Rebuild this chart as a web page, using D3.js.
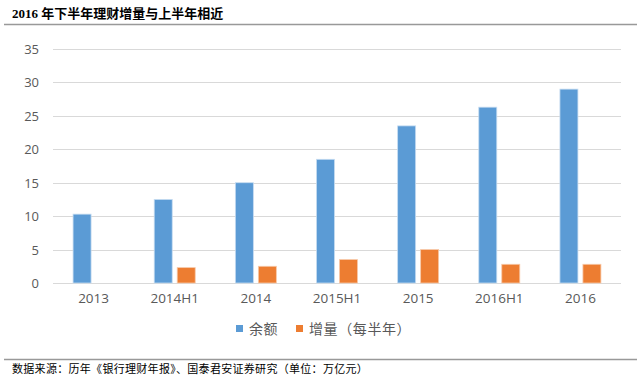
<!DOCTYPE html>
<html><head><meta charset="utf-8">
<script src="https://cdn.jsdelivr.net/npm/d3@7/dist/d3.min.js"></script>
<style>body{margin:0;background:#fff;}svg{display:block;}</style>
</head><body>
<svg id="c" width="640" height="375"></svg>
<script>
const categories = ["2013","2014H1","2014","2015H1","2015","2016H1","2016"];
const balance = [10.3,12.5,15.0,18.5,23.5,26.3,29.0];
const increment = [null,2.3,2.5,3.5,5.0,2.8,2.8];
const yTicks = [0,5,10,15,20,25,30,35];
const seriesNames = ["余额","增量（每半年）"];
const colors = ["#5B9BD5","#ED7D31"];
const title = "2016 年下半年理财增量与上半年相近";
const source = "数据来源：历年《银行理财年报》、国泰君安证券研究（单位：万亿元）";

const svg = d3.select("#c");
const L=53,R=621,T=49,B=283;
const x = d3.scaleBand().domain(categories).range([L,R]);
const y = d3.scaleLinear().domain([0,35]).range([B,T]);
const cjk = "'Noto Sans CJK SC','Noto Sans',sans-serif";

svg.append("text").attr("x",12).attr("y",18).attr("font-family","'Liberation Serif','Noto Sans CJK SC',serif")
  .attr("font-weight","bold").attr("font-size",13).attr("fill","#000").text(title);
svg.append("line").attr("x1",4).attr("x2",637).attr("y1",24.5).attr("y2",24.5).attr("stroke","#999").attr("stroke-width",1.5);

const grid = svg.append("g");
yTicks.forEach(t=>{
  grid.append("line").attr("x1",L).attr("x2",R).attr("y1",Math.round(y(t))+0.5).attr("y2",Math.round(y(t))+0.5)
    .attr("stroke","#d9d9d9").attr("stroke-width",1);
});
const ya = svg.append("g").attr("transform",`translate(${L-14},0)`).call(d3.axisLeft(y).tickValues(yTicks).tickSize(0).tickPadding(0));
ya.select(".domain").remove();
ya.selectAll("text").attr("font-family","'Open Sans',sans-serif").attr("font-size",13).attr("fill","#595959").attr("dy","0.35em");

const bw=18, gap=2.5;
const g = svg.append("g");
categories.forEach((c,i)=>{
  const cx = x(c)+x.bandwidth()/2;
  g.append("rect").attr("x",cx-gap-bw).attr("width",bw).attr("y",y(balance[i])).attr("height",y(0)-y(balance[i]))
    .attr("fill",colors[0]).attr("stroke","#c6dcf1").attr("stroke-width",0.8);
  if(increment[i]!=null)
  g.append("rect").attr("x",cx+gap).attr("width",bw).attr("y",y(increment[i])).attr("height",y(0)-y(increment[i]))
    .attr("fill",colors[1]).attr("stroke","#f7c9a9").attr("stroke-width",0.8);
});

const xa = svg.append("g").attr("transform",`translate(0,${B})`).call(d3.axisBottom(x).tickSize(0).tickPadding(10));
xa.select(".domain").remove();
xa.selectAll("text").attr("font-family","'Open Sans',sans-serif").attr("font-size",13.5).attr("fill","#595959");

const lg = svg.append("g");
const lx=[236,296];
seriesNames.forEach((n,i)=>{
  lg.append("rect").attr("x",lx[i]).attr("y",325).attr("width",7).attr("height",7).attr("fill",colors[i]);
  lg.append("text").attr("x",lx[i]+13).attr("y",334).attr("font-family",cjk).attr("font-size",14)
    .attr("letter-spacing",0.6).attr("fill","#595959").text(n);
});

svg.append("line").attr("x1",4).attr("x2",637).attr("y1",359.5).attr("y2",359.5).attr("stroke","#999").attr("stroke-width",1.5);
svg.append("text").attr("x",12).attr("y",373).attr("font-family",cjk).attr("font-size",11).attr("letter-spacing",0.3)
  .attr("fill","#000").text(source);
</script>
</body></html>
